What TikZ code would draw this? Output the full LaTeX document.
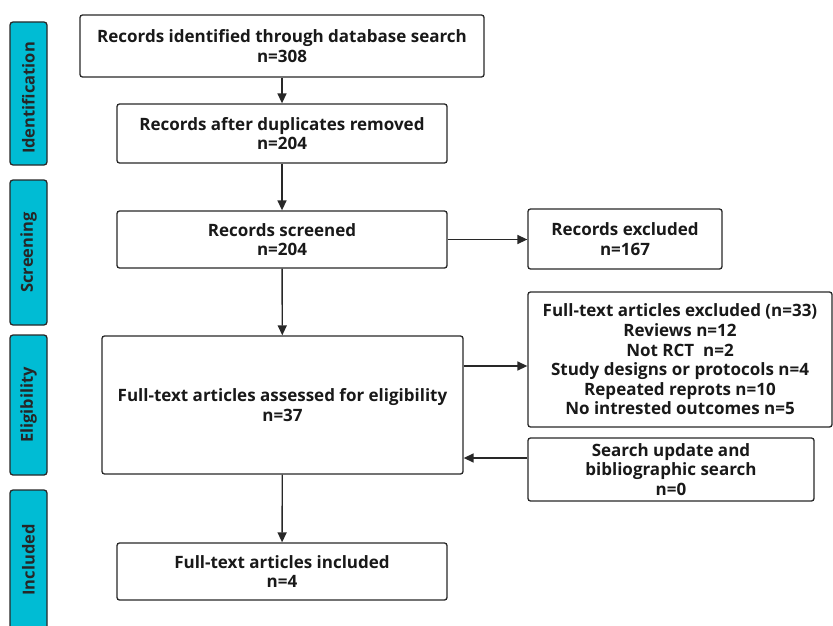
\documentclass[tikz,border=0pt]{standalone}
\usepackage{fontspec}
\setmainfont{Open Sans}
\usetikzlibrary{arrows.meta}
\definecolor{stagecyan}{RGB}{0,188,212}
\definecolor{edgegray}{RGB}{40,40,40}
\tikzset{
  box/.style={draw=edgegray, line width=1.3pt, rounded corners=2.5pt, fill=white, align=center,
    font=\fontsize{17}{19.6}\selectfont\bfseries, text=black!90, inner sep=0pt},
  stage/.style={draw=edgegray, line width=1.3pt, rounded corners=3pt, fill=stagecyan, inner sep=0pt},
  stagetext/.style={rotate=90, font=\fontsize{16.5}{20}\selectfont\bfseries, text=black!85},
  arr/.style={draw=edgegray, line width=1.4pt, -{Triangle[length=10pt,width=9pt]}},
}
\begin{document}
\begin{tikzpicture}[x=1pt,y=-1pt]
\useasboundingbox (0,0) rectangle (833,626);
% stages
\node[stage, minimum width=37pt, minimum height=143pt] (sid) at (28.5,93.5) {};
\node[stagetext] (tid) at (28.5,98) {Identification};
\node[stage, minimum width=37pt, minimum height=145pt] (ssc) at (28.5,252.5) {};
\node[stagetext] (tsc) at (ssc) {Screening};
\node[stage, minimum width=37pt, minimum height=140pt] (sel) at (28.5,405) {};
\node[stagetext] (tel) at (sel) {Eligibility};
\node[stage, minimum width=37pt, minimum height=150pt] (sin) at (28.5,565) {};
\node[stagetext] (tin) at (28.5,560) {Included};
% boxes
\node[box, minimum width=404pt, minimum height=62pt] (b1) at (282,46) {Records identified through database search\\n=308};
\node[box, minimum width=330pt, minimum height=59pt] (b2) at (282,133.5) {Records after duplicates removed\\n=204};
\node[box, minimum width=330pt, minimum height=57pt] (b3) at (282,239.5) {Records screened\\n=204};
\node[box, minimum width=194pt, minimum height=60pt] (ex1) at (625,239) {Records excluded\\n=167};
\node[box, minimum width=361pt, minimum height=138pt] (b4) at (282.5,405) {Full-text articles assessed for eligibility\\n=37};
\node[box, minimum width=304pt, minimum height=135pt] (ex2) at (680,359.5) {Full-text articles excluded (n=33)\\Reviews n=12\\Not RCT\ \ n=2\\Study designs or protocols n=4\\Repeated reprots n=10\\No intrested outcomes n=5};
\node[box, minimum width=286pt, minimum height=63pt] (up) at (671,469.5) {Search update and\\bibliographic search\\n=0};
\node[box, minimum width=330pt, minimum height=57pt] (b5) at (282,571.5) {Full-text articles included\\n=4};
% arrows
\draw[arr] (b1) -- (b2);
\draw[arr] (b2) -- (b3);
\draw[arr] (b3) -- (ex1.west |- b3);
\draw[arr] (b3) -- (b4);
\draw[arr] (b4.east |- 0,366) -- (ex2.west |- 0,366);
\draw[arr] (up.west |- 0,458) -- (b4.east |- 0,458);
\draw[arr] (b4) -- (b5);
\end{tikzpicture}
\end{document}
